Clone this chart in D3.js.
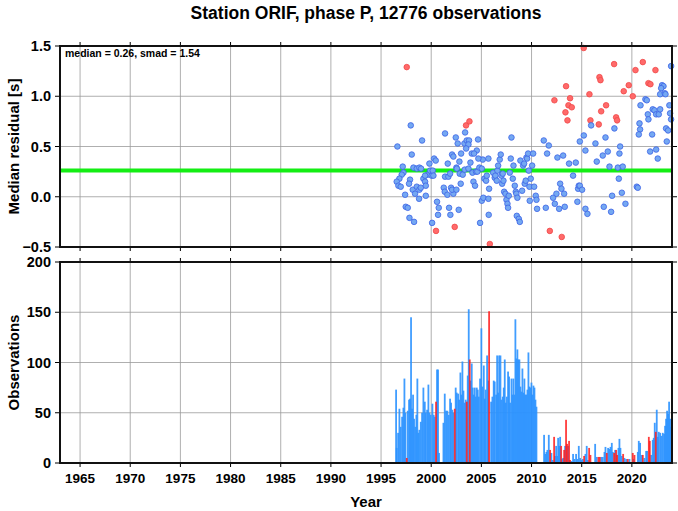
<!DOCTYPE html>
<html><head><meta charset="utf-8">
<script src="https://cdn.jsdelivr.net/npm/d3@7"></script>
<style>body{margin:0;background:#fff}svg{display:block}text{font-family:"Liberation Sans",Arial,Helvetica,sans-serif;font-weight:bold;fill:#000}</style>
</head><body><svg id="c" width="678" height="511"></svg>
<script>
const title = "Station ORIF, phase P, 12776 observations";
const statsLabel = "median = 0.26, smad = 1.54";
const medianValue = 0.26;
const xTicks = [1965,1970,1975,1980,1985,1990,1995,2000,2005,2010,2015,2020];
const resTicks = [-0.5,0.0,0.5,1.0,1.5];
const obsTicks = [0,50,100,150,200];

// monthly median residuals (blue = normal)
const blueYears = [1996.63,1997.96,1999.09,1998.06,1997.16,1997.23,1997.06,1996.83,1996.56,1996.73,1996.96,1997.40,1997.46,1997.66,1997.83,1998.29,1998.23,1998.56,1998.82,1998.99,1997.89,1997.79,1998.16,1998.39,1998.56,1998.82,1998.79,1998.96,1999.22,1999.39,1999.46,1999.46,1999.65,1999.82,1999.89,2000.05,2000.15,2000.22,2000.29,2000.45,1999.39,2000.09,2000.58,2000.75,2000.68,2001.25,2001.35,2001.61,2001.78,2001.91,2001.98,2002.21,2002.08,2002.51,2002.74,2002.94,2001.38,2001.71,2001.88,2001.65,2002.08,2002.21,2002.51,2002.81,2002.98,2002.84,2002.55,2002.64,2002.45,2001.38,2003.14,2003.34,2003.71,2003.91,2004.04,2004.21,2004.37,2004.11,2004.47,2004.60,2004.80,2005.04,2005.14,2004.70,2004.54,2004.27,2003.31,2003.54,2003.77,2003.71,2003.48,2003.38,2004.67,2004.87,2005.04,2005.20,2005.30,2005.47,2005.54,2005.70,2005.77,2005.70,2005.73,
2006.17,2006.33,2006.40,2006.53,2006.60,2006.67,2006.83,2006.93,2007.00,2007.07,2007.13,2007.20,2007.27,2007.40,2007.50,2007.60,2007.66,2007.73,2007.83,2007.93,2008.00,2008.13,2008.20,2008.33,2008.43,2008.49,2008.59,2008.53,2008.73,2008.83,2008.89,2009.06,2009.16,2009.26,2009.32,2009.42,2009.49,2009.56,2009.66,2009.72,2009.79,2009.92,2009.82,2010.06,2010.16,2010.26,2010.42,2010.49,2010.55,2011.22,2011.42,2011.55,2011.72,2012.15,2012.32,2012.48,2012.58,2012.75,2012.85,2012.98,2013.15,2013.25,2013.31,2013.74,2014.14,2014.41,2014.57,2014.64,2014.71,2014.81,2015.04,2014.81,2015.21,2015.37,2015.37,2015.57,
2015.94,2016.37,2016.50,2017.10,2017.37,2017.60,2017.77,2018.26,2018.60,2019.09,2018.70,2018.83,2018.76,2018.03,2019.00,2017.20,2017.93,2019.36,2020.49,2020.59,2020.86,2021.35,2021.49,2020.76,2020.82,2020.69,2021.59,2021.65,2022.02,2021.82,2022.42,2022.58,2022.08,2022.25,2022.42,2022.68,2022.82,2022.82,2023.01,2023.15,2023.28,2022.92,2023.35,2023.41,2023.61,2023.48,2023.74,2023.81,2023.91,2023.91];
const blueValues = [0.50,0.71,0.56,0.42,0.30,0.24,0.22,0.18,0.15,0.11,0.10,0.02,-0.10,-0.11,-0.21,-0.25,0.29,0.28,0.29,0.28,0.17,0.13,0.07,0.03,0.10,0.07,-0.02,0.09,0.18,0.15,0.11,0.01,0.22,0.33,0.26,0.21,0.26,0.21,0.38,0.36,0.21,-0.26,-0.05,-0.11,-0.18,0.09,0.05,0.02,-0.11,-0.18,0.09,0.03,0.07,0.07,-0.13,0.13,0.20,0.20,0.23,0.33,0.42,0.40,0.29,0.35,0.43,0.23,0.28,0.53,0.59,0.63,0.22,0.27,0.28,0.34,0.43,0.15,0.11,0.24,0.25,0.25,0.29,0.28,0.37,0.38,0.46,0.43,0.53,0.56,0.56,0.52,0.48,0.64,0.57,-0.26,-0.04,-0.01,0.18,0.16,0.21,0.38,0.08,-0.02,-0.18,
0.24,0.19,0.21,0.16,0.26,0.31,0.37,0.42,0.21,0.13,0.23,0.16,0.05,0.03,-0.03,-0.07,-0.11,0.01,0.24,0.38,0.59,0.18,0.31,0.11,0.05,0.03,-0.01,-0.19,-0.22,-0.25,0.36,0.06,0.31,0.33,0.13,0.16,0.39,0.38,0.43,0.26,0.10,0.18,-0.04,0.31,0.43,0.10,0.01,-0.03,-0.12,0.56,-0.11,0.43,0.51,-0.01,-0.07,0.03,0.39,-0.12,0.13,0.08,0.41,0.03,-0.10,0.33,0.21,0.34,-0.05,0.08,0.11,0.11,0.07,0.55,0.61,0.46,-0.12,-0.17,
0.71,0.53,0.35,0.41,0.59,0.45,0.30,0.68,0.29,0.30,0.18,0.50,0.43,0.01,0.04,-0.10,-0.15,-0.07,0.10,0.09,0.91,0.97,0.96,0.73,0.67,0.62,0.82,0.77,0.62,0.45,0.47,0.38,0.87,0.86,0.82,0.82,0.87,1.02,1.11,1.10,1.03,1.08,1.02,0.68,0.66,0.55,0.91,0.83,0.77,1.30];
// outlier months (red)
const redYears = [1997.56,2003.47,2003.81,2000.48,2002.34,2005.84,2015.20,2013.44,2013.84,2012.28,2013.68,2014.01,2013.38,2013.58,2011.82,2013.01,2018.23,2016.77,2016.87,2015.77,2017.43,2016.94,2015.87,2016.70,2018.43,2018.53,2019.19,2019.69,2020.09,2020.36,2021.09,2021.65,2021.85,2022.35];
const redValues = [1.29,0.71,0.75,-0.34,-0.30,-0.47,1.48,1.10,0.98,0.96,0.91,0.89,0.84,0.76,-0.34,-0.40,1.32,1.19,1.16,1.02,0.91,0.85,0.76,0.72,0.79,0.76,1.05,1.11,1.00,1.26,1.34,1.13,1.12,1.26];

// monthly observation counts
const barYears = [1996.50,1996.56,1996.70,1996.83,1996.96,1997.10,1997.23,1997.33,1997.43,1997.66,1997.79,1997.89,1997.99,1998.09,1998.19,1998.29,1998.42,1998.52,1998.62,1998.72,1998.82,1998.96,1999.09,1999.22,1999.36,1999.45,1999.59,1999.72,1999.82,1999.95,2000.12,2000.25,2000.35,2000.58,2000.68,2000.78,2001.22,2001.35,2001.48,2001.61,2001.75,2001.88,2001.98,2002.11,2002.21,2002.44,2002.54,2002.68,2002.78,2002.91,2003.01,2003.11,2003.21,2003.34,2003.44,2003.64,2003.74,2003.94,2004.04,2004.14,2004.24,2004.34,2004.44,2004.54,2004.64,2004.74,2004.87,2005.00,2005.10,2005.24,2005.34,2005.43,2005.57,2005.67,
2005.97,2006.10,2006.23,2006.33,2006.47,2006.57,2006.67,2006.77,2006.90,2007.00,2007.13,2007.23,2007.33,2007.43,2007.53,2007.66,2007.76,2007.86,2008.00,2008.10,2008.19,2008.29,2008.39,2008.49,2008.59,2008.69,2008.79,2008.89,2008.99,2009.09,2009.19,2009.29,2009.39,2009.49,2009.59,2009.69,2009.79,2009.89,2009.99,2010.09,2010.19,2010.29,2010.39,2010.49,
2011.25,2011.38,2011.48,2011.58,2011.72,2011.98,2012.11,2012.35,2012.45,2012.55,2012.65,2012.75,2012.85,2013.05,2013.15,2013.34,2013.64,2013.98,2014.14,2014.28,2014.44,2014.57,2014.71,2014.84,2014.97,2015.10,2015.37,2015.50,2015.61,
2016.34,2016.50,2016.94,2017.10,2017.27,2017.37,2017.63,2017.77,2017.87,2018.00,2018.10,2018.33,2018.66,2018.76,2018.86,2018.99,2019.26,2019.43,2019.76,2020.16,2020.42,2020.59,2020.69,2020.82,2020.99,2021.25,2021.42,2021.52,2021.92,2022.08,2022.18,2022.28,2022.48,2022.58,2022.68,2022.82,2022.95,2023.08,2023.21,2023.31,2023.41,2023.51,2023.61,2023.71,2023.81,2023.91];
const barCounts = [73,15,30,54,36,46,55,84,50,52,63,64,145,54,68,44,36,48,84,30,33,41,50,75,61,50,53,78,50,48,59,48,46,93,93,10,40,69,52,52,48,64,60,53,50,75,70,69,63,90,68,101,72,60,63,87,153,82,99,75,68,75,66,75,73,66,84,134,76,97,64,73,107,82,
61,66,82,81,68,107,70,107,107,63,66,75,103,60,66,91,86,60,84,68,84,68,143,104,113,103,103,76,71,94,70,84,68,68,73,110,76,75,80,68,77,75,63,56,
28,9,11,13,28,10,3,7,17,7,25,17,26,4,5,17,17,2,9,4,9,4,17,5,3,4,9,17,3,
19,6,6,6,11,16,15,14,16,20,11,13,15,24,15,7,5,4,4,4,1,11,22,20,8,5,12,12,8,23,25,40,53,26,31,30,27,30,29,37,44,52,49,61,44,36];
const redBarYears = [1997.56,2000.48,2002.35,2003.54,2003.84,2005.77,2011.85,2012.25,2012.95,2013.25,2013.44,2013.54,2013.74,2013.84,2015.24,2015.74,2015.87,2016.67,2016.80,2017.50,2018.23,2018.43,2018.53,2019.13,2019.59,2020.09,2020.26,2021.09,2021.69,2021.79,2022.38];
const redBarCounts = [5,61,54,61,103,151,13,26,17,13,43,19,22,3,7,15,8,6,6,10,10,13,8,9,4,10,8,8,26,22,31];

const svg = d3.select("#c");
const L = 60, R = 672, T1 = 46, B1 = 247, T2 = 262, B2 = 463;
const x = d3.scaleLinear().domain([1963, 2024]).range([L, R]);
const y1 = d3.scaleLinear().domain([-0.5, 1.5]).range([B1, T1]);
const y2 = d3.scaleLinear().domain([0, 200]).range([B2, T2]);

function panelGrid(y, ticks, top, bottom) {
  const g = svg.append("g");
  g.selectAll(".vg").data(xTicks).join("line")
    .attr("x1", d => x(d)).attr("x2", d => x(d)).attr("y1", top).attr("y2", bottom)
    .attr("stroke", "#9a9a9a").attr("stroke-width", 0.8);
  g.selectAll(".hg").data(ticks).join("line")
    .attr("x1", L).attr("x2", R).attr("y1", d => y(d)).attr("y2", d => y(d))
    .attr("stroke", "#9a9a9a").attr("stroke-width", 0.8);
}
function panelFrame(y, ticks, top, bottom, labelFmt) {
  const g = svg.append("g");
  g.selectAll(".tl").data(ticks).join("line").attr("x1", L - 5).attr("x2", L).attr("y1", d => y(d)).attr("y2", d => y(d)).attr("stroke", "#000").attr("stroke-width", 1);
  g.selectAll(".tr").data(ticks).join("line").attr("x1", R).attr("x2", R + 5).attr("y1", d => y(d)).attr("y2", d => y(d)).attr("stroke", "#000").attr("stroke-width", 1);
  g.selectAll(".tt").data(xTicks).join("line").attr("x1", d => x(d)).attr("x2", d => x(d)).attr("y1", top - 4).attr("y2", top).attr("stroke", "#000").attr("stroke-width", 1);
  g.selectAll(".tb").data(xTicks).join("line").attr("x1", d => x(d)).attr("x2", d => x(d)).attr("y1", bottom).attr("y2", bottom + 4).attr("stroke", "#000").attr("stroke-width", 1);
  g.append("rect").attr("x", L).attr("y", top).attr("width", R - L).attr("height", bottom - top)
    .attr("fill", "none").attr("stroke", "#111").attr("stroke-width", 2);
  g.selectAll(".lab").data(ticks).join("text")
    .attr("x", L - 9).attr("y", d => y(d)).attr("dy", "0.36em").attr("text-anchor", "end")
    .attr("font-size", 14.5).text(labelFmt);
}

// top panel
panelGrid(y1, resTicks, T1, B1);
svg.append("line").attr("x1", L).attr("x2", R).attr("y1", y1(medianValue)).attr("y2", y1(medianValue))
  .attr("stroke", "#14ee14").attr("stroke-width", 4);
const blueData = blueYears.map((d, i) => ({yr: d, v: blueValues[i]}));
const redData = redYears.map((d, i) => ({yr: d, v: redValues[i]}));
svg.append("g").selectAll("circle").data(redData).join("circle")
  .attr("cx", d => x(d.yr)).attr("cy", d => y1(d.v)).attr("r", 2.8)
  .attr("fill", "#ff6a6a").attr("stroke", "#f04848").attr("stroke-width", 0.8);
svg.append("g").selectAll("circle").data(blueData).join("circle")
  .attr("cx", d => x(d.yr)).attr("cy", d => y1(d.v)).attr("r", 2.8)
  .attr("fill", "#74a8f2").attr("stroke", "#3b62e6").attr("stroke-width", 0.8);
panelFrame(y1, resTicks, T1, B1, d => d3.format(".1f")(d));
svg.append("text").attr("x", 65).attr("y", 57).attr("font-size", 10.5).text(statsLabel);

// bottom panel
panelGrid(y2, obsTicks, T2, B2);
const barData = barYears.map((d, i) => ({yr: d, c: barCounts[i]}));
const redBarData = redBarYears.map((d, i) => ({yr: d, c: redBarCounts[i]}));
const bw = 1.8;
svg.append("g").selectAll("rect").data(barData).join("rect")
  .attr("x", d => x(d.yr) - bw / 2).attr("width", bw)
  .attr("y", d => y2(d.c)).attr("height", d => y2(0) - y2(d.c))
  .attr("fill", "#2b92ff").attr("fill-opacity", 0.9);
svg.append("g").selectAll("rect").data(redBarData).join("rect")
  .attr("x", d => x(d.yr) - bw / 2).attr("width", bw)
  .attr("y", d => y2(d.c)).attr("height", d => y2(0) - y2(d.c))
  .attr("fill", "#ff1a1a").attr("fill-opacity", 0.85);
panelFrame(y2, obsTicks, T2, B2, d => d);

// x tick labels
svg.append("g").selectAll("text").data(xTicks).join("text")
  .attr("x", d => x(d)).attr("y", 483).attr("text-anchor", "middle").attr("font-size", 13.5).text(d => d);

// titles
svg.append("text").attr("x", (L + R) / 2).attr("y", 19).attr("text-anchor", "middle").attr("font-size", 17.5).text(title);
svg.append("text").attr("x", (L + R) / 2).attr("y", 507).attr("text-anchor", "middle").attr("font-size", 15).text("Year");
svg.append("text").attr("transform", `translate(19,${(T1 + B1) / 2}) rotate(-90)`).attr("text-anchor", "middle").attr("font-size", 15).text("Median residual [s]");
svg.append("text").attr("transform", `translate(19,${(T2 + B2) / 2}) rotate(-90)`).attr("text-anchor", "middle").attr("font-size", 15).text("Observations");
</script></body></html>
